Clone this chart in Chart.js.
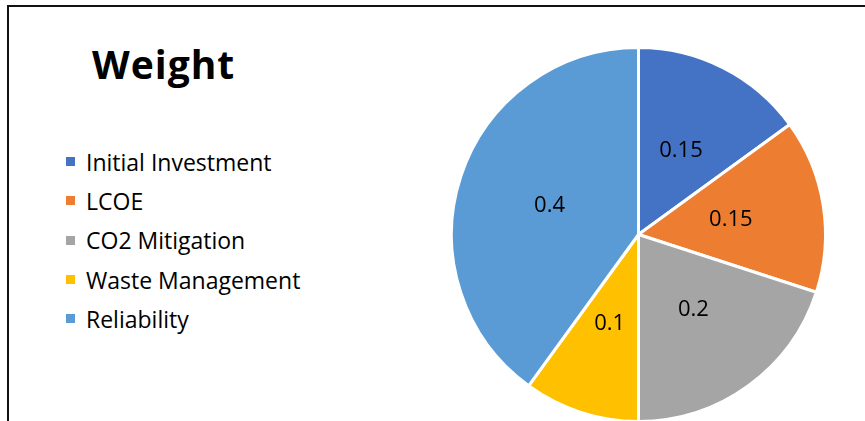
<!DOCTYPE html>
<html>
<head>
<meta charset="utf-8">
<title>Weight</title>
<script src="https://cdn.jsdelivr.net/npm/chart.js@4.4.1/dist/chart.umd.min.js"></script>
<style>
  html, body { margin: 0; padding: 0; background: #fff; }
  #wrap { position: relative; width: 865px; height: 421px; overflow: hidden; font-family: "Open Sans", sans-serif; }
  /* frame lines along the top and left edge */
  #frame { position: absolute; left: 7px; top: 5px; right: 0; bottom: -10px; border-top: 2px solid #111; border-left: 2px solid #111; }
  #title { position: absolute; left: 92px; top: 44px; font-size: 39px; letter-spacing: 1px; font-weight: 700; color: #000; line-height: 1; }
  #legend { position: absolute; left: 66px; top: 142px; margin: 0; padding: 0; list-style: none; }
  #legend li { height: 39.3px; display: flex; align-items: center; font-size: 23px; color: #000; }
  #legend .box { width: 9px; height: 9px; margin-right: 11px; flex: none; }
  canvas { position: absolute; left: 0; top: 0; }
</style>
</head>
<body>
<div id="wrap">
  <div id="frame"></div>
  <div id="title">Weight</div>
  <ul id="legend"></ul>
  <canvas id="pieChart" width="865" height="424"></canvas>
</div>
<script>
/* =========================================
   WEIGHT DATA
========================================= */
const categories = ["Initial Investment", "LCOE", "CO2 Mitigation", "Waste Management", "Reliability"];
const weights = [0.15, 0.15, 0.2, 0.1, 0.4];
const colors = ["#4472C4", "#ED7D31", "#A5A5A5", "#FFC000", "#5B9BD5"];

/* =========================================
   LEGEND (left side list)
========================================= */
const legend = document.getElementById("legend");
categories.forEach((name, i) => {
  const li = document.createElement("li");
  const box = document.createElement("span");
  box.className = "box";
  box.style.background = colors[i];
  li.appendChild(box);
  li.appendChild(document.createTextNode(name));
  legend.appendChild(li);
});

/* =========================================
   VALUE LABELS INSIDE EACH SLICE
========================================= */
const sliceLabels = {
  id: "sliceLabels",
  afterDatasetsDraw(chart) {
    const ctx = chart.ctx;
    const meta = chart.getDatasetMeta(0);
    ctx.save();
    ctx.font = "22px 'Open Sans', sans-serif";
    ctx.fillStyle = "#000";
    ctx.textAlign = "center";
    ctx.textBaseline = "middle";
    meta.data.forEach((arc, i) => {
      const pos = arc.tooltipPosition();
      ctx.fillText(String(chart.data.datasets[0].data[i]), pos.x, pos.y);
    });
    ctx.restore();
  }
};

/* =========================================
   PIE CHART
========================================= */
new Chart(document.getElementById("pieChart"), {
  type: "pie",
  data: {
    labels: categories,
    datasets: [{
      data: weights,
      backgroundColor: colors,
      borderColor: "#fff",
      borderWidth: 3
    }]
  },
  options: {
    responsive: false,
    animation: false,
    layout: { padding: { left: 450, top: 46, right: 38, bottom: 1 } },
    plugins: {
      legend: { display: false },
      tooltip: { enabled: false }
    }
  },
  plugins: [sliceLabels]
});
</script>
</body>
</html>
